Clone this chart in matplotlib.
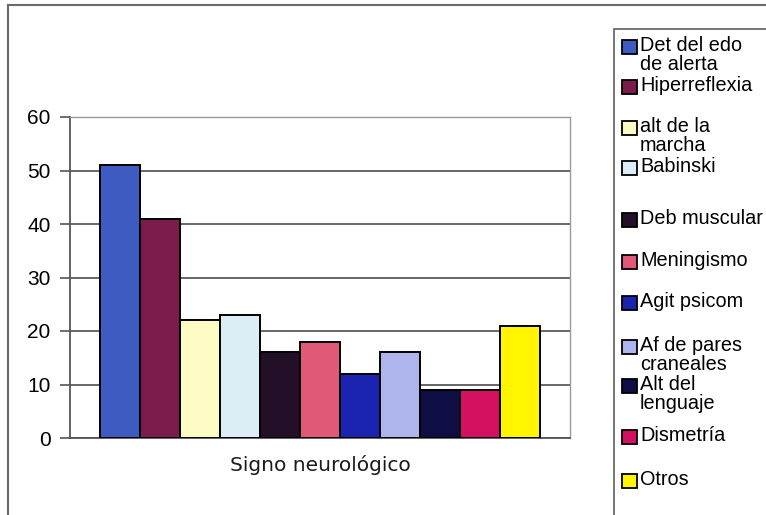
import matplotlib
matplotlib.use("Agg")
import matplotlib.pyplot as plt
from matplotlib.patches import Rectangle
from matplotlib.lines import Line2D

# Signos neurologicos: numero de pacientes por signo
signos = ["Det del edo\nde alerta", "Hiperreflexia", "alt de la\nmarcha", "Babinski",
          "Deb muscular", "Meningismo", "Agit psicom", "Af de pares\ncraneales",
          "Alt del\nlenguaje", "Dismetría", "Otros"]
casos = [51, 41, 22, 23, 16, 18, 12, 16, 9, 9, 21]
colores = ["#3d5bc0", "#7b1c4c", "#fdfbc4", "#dcedf5", "#231028", "#e05a78",
           "#1a24b0", "#aeb4ec", "#0e0e45", "#d41060", "#fff500"]
yticks = [0, 10, 20, 30, 40, 50, 60]

W, H = 766, 515
fig = plt.figure(figsize=(W / 100, H / 100), dpi=100)
fig.patch.set_facecolor("white")

ax = fig.add_axes([70 / W, 1 - 438 / H, 500 / W, 321 / H])
x = list(range(len(casos)))
ax.bar(x, casos, width=1.0, color=colores, edgecolor="black", linewidth=1.4, zorder=3)

ax.set_xlim(-1.25, len(casos) + 0.25)
ax.set_ylim(0, 60)
ax.set_yticks(yticks)
ax.set_yticklabels([str(v) for v in yticks], fontsize=15, family="Liberation Sans",
                   color="black")
ax.tick_params(axis="y", length=7, width=1.2, color="#555555", pad=7)
ax.set_xticks([])
ax.yaxis.grid(True, color="#5a5a5a", linewidth=1.3, zorder=0)
ax.set_axisbelow(True)

for side in ["top", "right"]:
    ax.spines[side].set_color("#9a9a9a")
    ax.spines[side].set_linewidth(1.0)
ax.spines["left"].set_color("#555555")
ax.spines["left"].set_linewidth(1.3)
ax.spines["bottom"].set_color("#555555")
ax.spines["bottom"].set_linewidth(1.3)

ax.set_xlabel("Signo neurológico", fontsize=14.5, family="DejaVu Sans",
              color="#1a1a1a", labelpad=12)

# marco exterior del grafico
fig.add_artist(Line2D([8 / W, 1.0], [1 - 5 / H, 1 - 5 / H], color="#6a6a6a", lw=1.5))
fig.add_artist(Line2D([8 / W, 8 / W], [0, 1 - 5 / H], color="#6a6a6a", lw=1.5))

# caja de la leyenda
fig.add_artist(Rectangle((614 / W, -0.05), 1.0, 1 - 29 / H + 0.05,
                         transform=fig.transFigure, facecolor="none",
                         edgecolor="#6a6a6a", lw=1.3))

# entradas de la leyenda, una por ranura
leg_y = [47, 87, 128, 168, 220, 262, 303, 347, 386, 437, 481]
for lab, col, yy in zip(signos, colores, leg_y):
    fig.add_artist(Rectangle((622 / W, 1 - (yy + 7) / H), 15 / W, 14 / H,
                             transform=fig.transFigure, facecolor=col,
                             edgecolor="black", lw=1.3))
    fig.text(640 / W, 1 - (yy - 11) / H, lab, fontsize=14.3, family="Liberation Sans",
             va="top", ha="left", linespacing=0.98, color="black")

fig.savefig("out.png", dpi=100)
